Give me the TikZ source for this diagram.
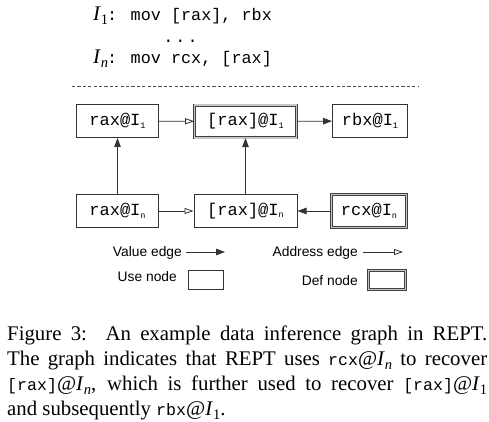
\documentclass[tikz,border=0pt]{standalone}
\usepackage{fontspec}
\setmainfont{Liberation Serif}
\newfontfamily\cour{Liberation Mono}
\newfontfamily\helv{Liberation Sans}
\usetikzlibrary{arrows.meta}
\newcommand\nsub[1]{\raisebox{-2.5pt}{\fontsize{8.5}{8.5}\selectfont #1}}
\newcommand\capI[1]{\textit{I}\raisebox{-4pt}{\fontsize{14.5}{14.5}\selectfont #1}}
\newcommand\capt[1]{{\cour\fontsize{16.6}{25}\selectfont #1}}
\begin{document}
\begin{tikzpicture}[x=1pt,y=-1pt,
  lbl/.style={font=\cour\fontsize{16.8}{18}\selectfont, inner sep=0pt},
  box/.style={draw=black!80, line width=0.8pt, font=\cour\fontsize{17}{18}\selectfont, inner sep=0pt, minimum height=33.2pt},
  defbox/.style={draw=black!75, double=black!22, double distance=1.8pt, line width=0.6pt, font=\cour\fontsize{17}{18}\selectfont, inner sep=0pt, minimum height=32.5pt},
  vedge/.style={draw=black!80, line width=0.8pt, -{Triangle[length=9pt,width=6.5pt]}},
  aedge/.style={draw=black!80, line width=0.8pt, -{Triangle[open,length=9pt,width=6pt,fill=white]}},
  leg/.style={font=\helv\fontsize{13.8}{16}\selectfont, inner sep=0pt},
]
\useasboundingbox[fill=white] (0,0) rectangle (489,422);

% code
\node[anchor=base west, inner sep=0pt, font=\fontsize{20.8}{25}\selectfont] (i1) at (93,21) {\capI{1}};
\node[lbl, anchor=base west] (c1) at (107,21) {: mov [rax], rbx};
\node[lbl, anchor=base] (dots) at (180.5,43) {.\kern2pt.\kern2pt.};
\node[anchor=base west, inner sep=0pt, font=\fontsize{20.8}{25}\selectfont] (in) at (93,64) {\capI{\textit{n}}};
\node[lbl, anchor=base west] (c2) at (107,64) {: mov rcx, [rax]};
\coordinate (d1) at (72,86);
\coordinate (d2) at (418,86);
\draw[black!70, line width=0.7pt, dash pattern=on 3.2pt off 2.2pt] (d1) -- (d2);

% nodes
\node[box, minimum width=82.2pt] (rax1) at (117.5,121) {rax@I\nsub{1}};
\node[defbox, minimum width=102pt] (mrax1) at (245.5,121.5) {[rax]@I\nsub{1}};
\node[box, minimum width=75.2pt] (rbx1) at (370,121) {rbx@I\nsub{1}};
\node[box, minimum width=82.2pt] (raxn) at (117.5,211) {rax@I\nsub{n}};
\node[box, minimum width=103.2pt] (mraxn) at (245.5,211) {[rax]@I\nsub{n}};
\node[defbox, minimum width=75pt, minimum height=33pt] (rcxn) at (369,211) {rcx@I\nsub{n}};

% edges
\draw[aedge] (rax1) -- (mrax1);
\draw[vedge] (mrax1) -- (rbx1);
\draw[vedge] (raxn) -- (rax1);
\draw[vedge] (mraxn) -- (mrax1);
\draw[aedge] (raxn) -- (mraxn);
\draw[vedge] (rcxn) -- (mraxn);

% legend
\node[leg, anchor=base east] (lv) at (182,256) {Value edge};
\coordinate (v1) at (186,252);
\coordinate (v2) at (225,252);
\draw[vedge] (v1) -- (v2);
\node[leg, anchor=base east] (la) at (358,256) {Address edge};
\coordinate (a1) at (363,252);
\coordinate (a2) at (403,252);
\draw[aedge] (a1) -- (a2);
\node[leg, anchor=base east] (lu) at (177,281.7) {Use node};
\node[draw=black!80, line width=0.8pt, minimum width=35.2pt, minimum height=19.2pt, inner sep=0pt] (ub) at (206,280) {};
\node[leg, anchor=base east] (ld) at (358,285) {Def node};
\node[draw=black!75, double=black!22, double distance=1.8pt, line width=0.6pt, minimum width=37pt, minimum height=19pt, inner sep=0pt] (db) at (387,280) {};

% caption
\node[anchor=north west, inner sep=0pt, text width=480pt, align=justify,
      font=\fontsize{20.8}{25}\selectfont] (cap) at (7,325.5)
{\hfuzz=20pt Figure 3:\ \ An example data inference graph in REPT.\linebreak
The graph indicates that REPT uses \capt{rcx}@\capI{\textit{n}} to recover\linebreak
\capt{[rax]}@\capI{\textit{n}}, which is further used to recover \capt{[rax]}@\capI{1}\linebreak
and subsequently \capt{rbx}@\capI{1}.};
\end{tikzpicture}
\end{document}
